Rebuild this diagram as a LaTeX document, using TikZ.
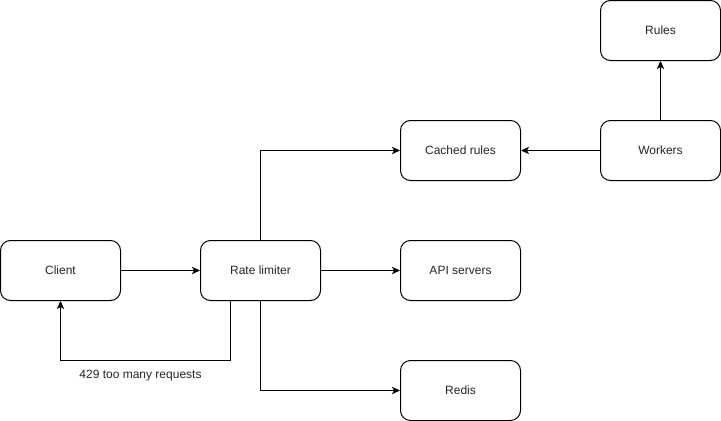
\documentclass[tikz,border=0pt]{standalone}
\usepackage{fontspec}
\setmainfont{Liberation Sans}
\usetikzlibrary{arrows.meta}
\begin{document}
\begin{tikzpicture}[x=0.75pt,y=-0.75pt,
  box/.style={draw=black, line width=0.75pt, rounded corners=7.5pt, minimum width=90pt, minimum height=45pt, inner sep=0pt, font=\fontsize{9pt}{11pt}\selectfont, text=black!85},
  conn/.style={draw=black, line width=0.75pt, -{Stealth[length=6pt,width=5.5pt,inset=1.5pt]}},
  lbl/.style={font=\fontsize{9pt}{11pt}\selectfont, text=black!85}]
\useasboundingbox (0,0) rectangle (721,421);
\node[box] (rules) at (660.5,30.5) {Rules};
\node[box] (cached) at (460.5,150.5) {Cached rules};
\node[box] (workers) at (660.5,150.5) {Workers};
\node[box] (client) at (60.5,270.5) {Client};
\node[box] (rl) at (260.5,270.5) {Rate limiter};
\node[box] (api) at (460.5,270.5) {API servers};
\node[box] (redis) at (460.5,390.5) {Redis};
\draw[conn] (client) -- (rl);
\draw[conn] (rl) -- (api);
\draw[conn] (rl.north) |- (cached.west);
\draw[conn] (rl.south) |- (redis.west);
\draw[conn] (workers) -- (cached);
\draw[conn] (workers) -- (rules);
\coordinate (c1) at (230.5,360.5);
\draw[conn] (rl.south -| c1) -- (c1) -| (client.south);
\node[lbl] (l429) at (140.5,375.5) {429 too many requests};
\end{tikzpicture}
\end{document}
